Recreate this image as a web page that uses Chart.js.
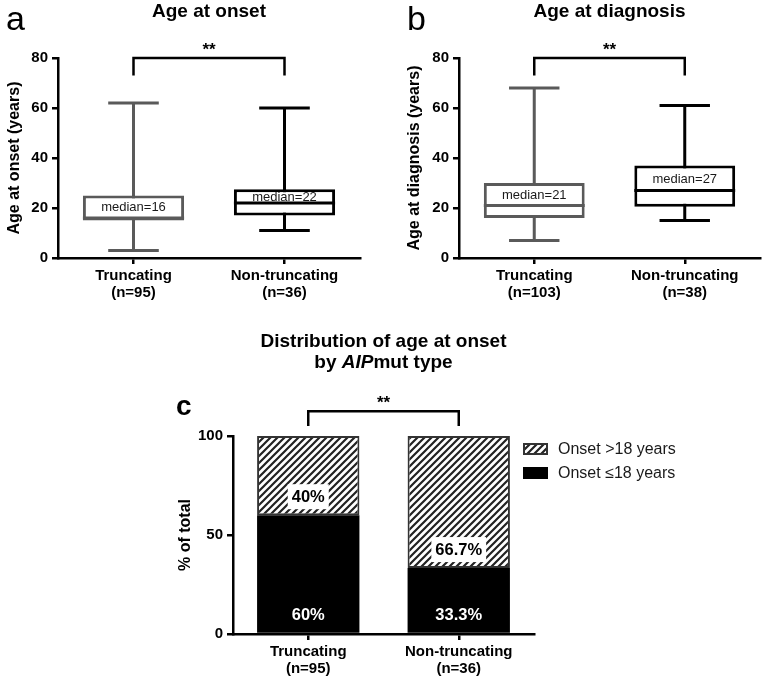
<!DOCTYPE html>
<html>
<head>
<meta charset="utf-8">
<script src="https://cdn.jsdelivr.net/npm/chart.js@4.4.1/dist/chart.umd.min.js"></script>
<style>
  html, body { margin: 0; padding: 0; background: #fff; }
  #page { position: relative; width: 762px; height: 679px; overflow: hidden; }
  canvas { position: absolute; }
</style>
</head>
<body>
<div id="page">
  <canvas id="onset" width="380" height="320" style="left:0;top:0"></canvas>
  <canvas id="diag" width="382" height="320" style="left:380px;top:0"></canvas>
  <canvas id="dist" width="560" height="359" style="left:150px;top:320px"></canvas>
</div>
<script>
// ---- data ----
var onsetCategories = [["Truncating", "(n=95)"], ["Non-truncating", "(n=36)"]];
var onsetMin    = [3, 11];
var onsetQ1     = [15, 17];
var onsetMedian = [16, 22];
var onsetQ3     = [25, 27.5];
var onsetMax    = [62, 60];

var diagCategories = [["Truncating", "(n=103)"], ["Non-truncating", "(n=38)"]];
var diagMin    = [7, 15];
var diagQ1     = [16, 20.5];
var diagMedian = [21, 27];
var diagQ3     = [30, 37];
var diagMax    = [68, 61];

var ageTicks = [0, 20, 40, 60, 80];

var distCategories = [["Truncating", "(n=95)"], ["Non-truncating", "(n=36)"]];
var distSeries = ["Onset \u226418 years", "Onset >18 years"];
var distUpTo18 = [60, 33.3];
var distOver18 = [40, 66.7];
var distTicks  = [0, 50, 100];

// ---- styling ----
var FAMILY = "'Liberation Sans', Arial, sans-serif";
var INK = "#000";
var GREY = "#5a5a5a";
var BOX_COLORS = [GREY, INK];

function font(weight, size, style) {
  return (style ? style + " " : "") + weight + " " + size + "px " + FAMILY;
}

Chart.defaults.font.family = FAMILY;
Chart.defaults.color = INK;
Chart.defaults.animation = false;

function hatch() {
  var c = document.createElement("canvas");
  c.width = 7; c.height = 7;
  var g = c.getContext("2d");
  g.fillStyle = "#fff";
  g.fillRect(0, 0, 7, 7);
  g.strokeStyle = "#222";
  g.lineWidth = 2.2;
  g.beginPath();
  g.moveTo(-1, 8); g.lineTo(8, -1);
  g.moveTo(-1, 1); g.lineTo(1, -1);
  g.moveTo(6, 8);  g.lineTo(8, 6);
  g.stroke();
  return g.createPattern(c, "repeat");
}

// whiskers, medians and "median=" labels on top of floating bars
var boxPlot = {
  id: "boxPlot",
  beforeDatasetsDraw: function(chart, args, o) {
    var ctx = chart.ctx, y = chart.scales.y;
    chart.getDatasetMeta(0).data.forEach(function(bar, i) {
      var cap = bar.width / 4;
      var lo = y.getPixelForValue(o.min[i]), hi = y.getPixelForValue(o.max[i]);
      ctx.save();
      ctx.strokeStyle = o.colors[i];
      ctx.lineWidth = 3;
      ctx.beginPath();
      ctx.moveTo(bar.x, lo); ctx.lineTo(bar.x, hi);
      ctx.moveTo(bar.x - cap, lo); ctx.lineTo(bar.x + cap, lo);
      ctx.moveTo(bar.x - cap, hi); ctx.lineTo(bar.x + cap, hi);
      ctx.stroke();
      ctx.restore();
    });
  },
  afterDatasetsDraw: function(chart, args, o) {
    var ctx = chart.ctx, y = chart.scales.y;
    chart.getDatasetMeta(0).data.forEach(function(bar, i) {
      var half = bar.width / 2;
      var my = y.getPixelForValue(o.median[i]);
      ctx.save();
      ctx.strokeStyle = o.colors[i];
      ctx.lineWidth = 3;
      ctx.beginPath();
      ctx.moveTo(bar.x - half, my); ctx.lineTo(bar.x + half, my);
      ctx.stroke();
      ctx.fillStyle = "#1a1a1a";
      ctx.font = font("normal", 13);
      ctx.textAlign = "center";
      ctx.textBaseline = "middle";
      ctx.fillText("median=" + o.median[i], bar.x, y.getPixelForValue((o.median[i] + o.q3[i]) / 2) + 1);
      ctx.restore();
    });
  }
};

// panel letter, title and significance bracket
var decor = {
  id: "decor",
  afterDraw: function(chart, args, o) {
    var ctx = chart.ctx, area = chart.chartArea, x = chart.scales.x, y = chart.scales.y;
    ctx.save();
    ctx.fillStyle = INK;
    ctx.textBaseline = "alphabetic";
    ctx.textAlign = "left";
    ctx.font = o.letterFont;
    ctx.fillText(o.letter, o.letterX, o.letterY);

    var cx = (area.left + area.right) / 2;
    o.title.forEach(function(line, k) {
      var w = 0;
      line.forEach(function(seg) { ctx.font = seg[1]; w += ctx.measureText(seg[0]).width; });
      var px = cx - w / 2;
      line.forEach(function(seg) {
        ctx.font = seg[1];
        ctx.fillText(seg[0], px, o.titleY[k]);
        px += ctx.measureText(seg[0]).width;
      });
    });

    var x0 = x.getPixelForValue(0), x1 = x.getPixelForValue(1);
    var top = y.getPixelForValue(o.bracket[0]), leg = y.getPixelForValue(o.bracket[1]);
    ctx.strokeStyle = INK;
    ctx.lineWidth = 2.5;
    ctx.beginPath();
    ctx.moveTo(x0, leg); ctx.lineTo(x0, top); ctx.lineTo(x1, top); ctx.lineTo(x1, leg);
    ctx.stroke();
    ctx.font = font("bold", 17);
    ctx.textAlign = "center";
    ctx.fillText("**", (x0 + x1) / 2, top - 3);
    ctx.restore();
  }
};

// percentage labels inside stacked segments
var segmentLabels = {
  id: "segmentLabels",
  afterDatasetsDraw: function(chart) {
    var ctx = chart.ctx;
    ctx.save();
    ctx.font = font("bold", 16.5);
    ctx.textAlign = "center";
    ctx.textBaseline = "middle";
    chart.data.datasets.forEach(function(ds, d) {
      chart.getDatasetMeta(d).data.forEach(function(bar, i) {
        var txt = ds.data[i] + "%";
        var cy = bar.base - 18.5;
        if (d === 1) {
          var w = ctx.measureText(txt).width + 8;
          ctx.fillStyle = "#fff";
          ctx.fillRect(bar.x - w / 2, cy - 12.5, w, 25);
          ctx.fillStyle = INK;
        } else {
          ctx.fillStyle = "#fff";
        }
        ctx.fillText(txt, bar.x, cy + 1);
      });
    });
    ctx.restore();
  }
};

// legend at the right of panel c (top series first)
var sideLegend = {
  id: "sideLegend",
  afterDraw: function(chart, args, o) {
    var ctx = chart.ctx;
    var sets = chart.data.datasets.slice().reverse();
    ctx.save();
    ctx.font = font("normal", 16);
    ctx.textBaseline = "middle";
    ctx.textAlign = "left";
    sets.forEach(function(ds, k) {
      var top = o.y + k * 24;
      ctx.fillStyle = ds.backgroundColor;
      ctx.fillRect(o.x, top, 25, 12);
      ctx.strokeStyle = ds.borderColor;
      ctx.lineWidth = 2;
      ctx.strokeRect(o.x + 1, top + 1, 23, 10);
      ctx.fillStyle = "#1a1a1a";
      ctx.fillText(ds.label, o.x + 35, top + 6.5);
    });
    ctx.restore();
  }
};

function axisY(title, ticks, max, width) {
  return {
    min: 0, max: max,
    afterBuildTicks: function(s) { s.ticks = ticks.map(function(v) { return { value: v }; }); },
    afterFit: function(s) { s.width = width; },
    grid: { drawOnChartArea: false, tickLength: 6, lineWidth: 2.5, color: INK },
    border: { width: 2.5, color: INK },
    ticks: { font: { size: 15, weight: "bold" }, padding: 4, color: INK },
    title: { display: true, text: title, font: { size: 16, weight: "bold" }, padding: { top: 5, bottom: 0 }, color: INK }
  };
}

function axisX(height, stacked) {
  return {
    stacked: !!stacked,
    afterFit: function(s) { s.height = height; },
    grid: { offset: false, drawOnChartArea: false, tickLength: 6, lineWidth: 2.5, color: INK },
    border: { width: 2.5, color: INK },
    ticks: { font: { size: 15, weight: "bold", lineHeight: "17px" }, padding: 3.5, color: INK, maxRotation: 0 }
  };
}

function boxChart(id, cats, q1, q3, min, med, max, yTitle, pad, yWidth, letter, letterX, title) {
  return new Chart(document.getElementById(id), {
    type: "bar",
    data: {
      labels: cats,
      datasets: [{
        data: q1.map(function(v, i) { return [v, q3[i]]; }),
        backgroundColor: "#fff",
        borderColor: BOX_COLORS,
        borderWidth: 3,
        borderSkipped: false,
        barPercentage: 0.67,
        categoryPercentage: 1
      }]
    },
    options: {
      responsive: false,
      layout: { padding: pad },
      scales: { x: axisX(62), y: axisY(yTitle, ageTicks, 80, yWidth) },
      plugins: {
        legend: { display: false },
        tooltip: { enabled: false },
        boxPlot: { min: min, max: max, median: med, q3: q3, colors: BOX_COLORS },
        decor: {
          letter: letter, letterX: letterX, letterY: 30, letterFont: font("normal", 34),
          title: [[[title, font("bold", 19)]]], titleY: [17],
          bracket: [80, 73]
        }
      }
    },
    plugins: [boxPlot, decor]
  });
}

boxChart("onset", onsetCategories, onsetQ1, onsetQ3, onsetMin, onsetMedian, onsetMax,
  "Age at onset (years)", { left: 0, right: 20, top: 58, bottom: 0 }, 58, "a", 6, "Age at onset");

boxChart("diag", diagCategories, diagQ1, diagQ3, diagMin, diagMedian, diagMax,
  "Age at diagnosis (years)", { left: 20, right: 2, top: 58, bottom: 0 }, 59, "b", 27, "Age at diagnosis");

var stripes = hatch();

new Chart(document.getElementById("dist"), {
  type: "bar",
  data: {
    labels: distCategories,
    datasets: [
      { label: distSeries[0], data: distUpTo18, backgroundColor: "#000", borderColor: "#000",
        borderWidth: 0, inflateAmount: 0, barPercentage: 0.68, categoryPercentage: 1 },
      { label: distSeries[1], data: distOver18, backgroundColor: stripes, borderColor: "#333",
        borderWidth: 2, borderSkipped: false, barPercentage: 0.68, categoryPercentage: 1 }
    ]
  },
  options: {
    responsive: false,
    layout: { padding: { left: 21.4, right: 176, top: 116, bottom: 0 } },
    scales: {
      x: axisX(45, true),
      y: Object.assign(axisY("% of total", distTicks, 100, 61.6), { stacked: true })
    },
    plugins: {
      legend: { display: false },
      tooltip: { enabled: false },
      sideLegend: { x: 373, y: 123 },
      decor: {
        letter: "c", letterX: 26, letterY: 95, letterFont: font("bold", 28),
        title: [
          [["Distribution of age at onset", font("bold", 19)]],
          [["by ", font("bold", 19)], ["AIP", font("bold", 19, "italic")], ["mut type", font("bold", 19)]]
        ],
        titleY: [27, 48],
        bracket: [112.5, 105]
      }
    }
  },
  plugins: [segmentLabels, sideLegend, decor]
});
</script>
</body>
</html>
